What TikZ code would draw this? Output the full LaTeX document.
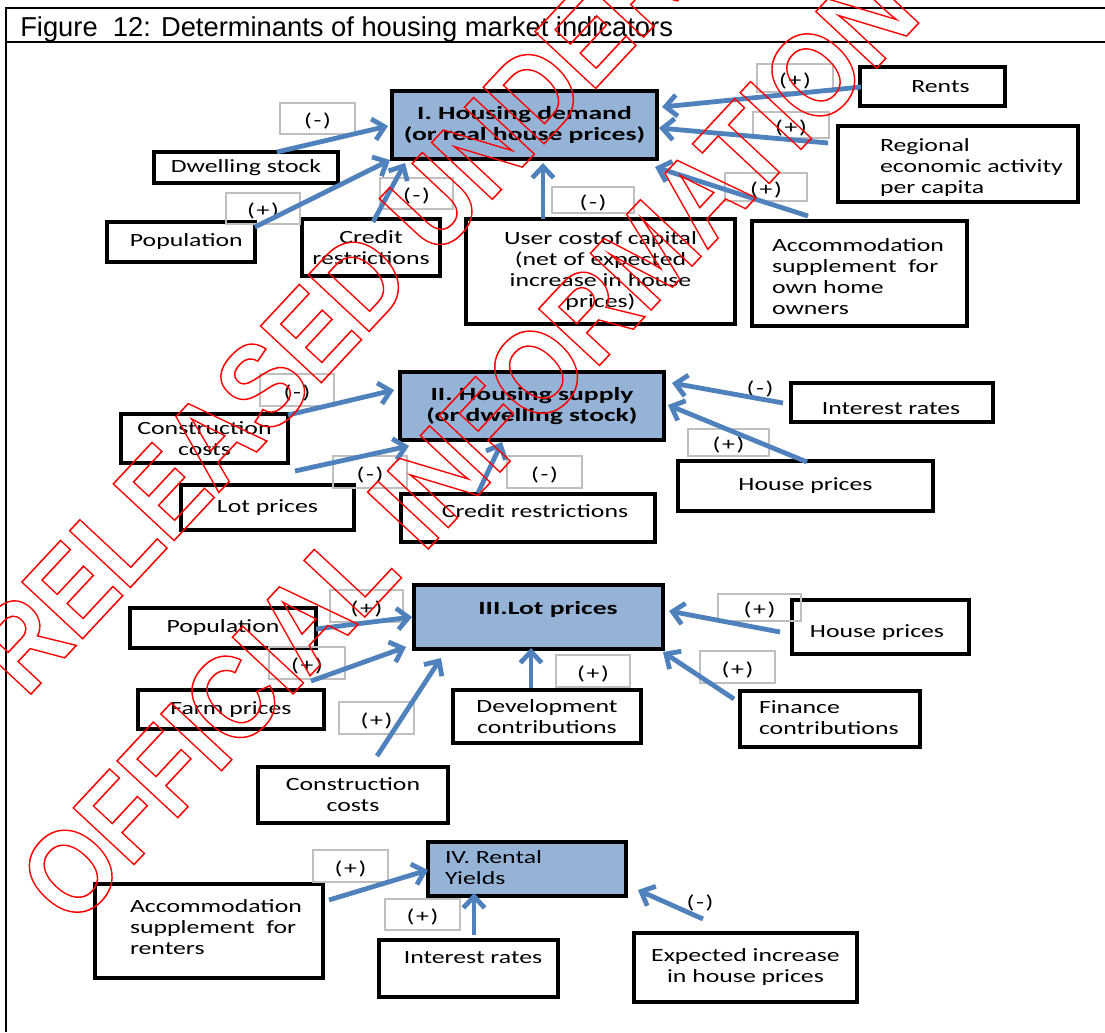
\documentclass[tikz,border=0pt]{standalone}
\usepackage{fontspec}
\setmainfont{Liberation Sans}
\newfontfamily\cf[FakeStretch=1.38, BoldFeatures={FakeStretch=1.48}]{Carlito}
\newfontfamily\wmfont{Liberation Sans}
\usetikzlibrary{arrows.meta,calc}
\definecolor{hblue}{RGB}{149,179,215}
\definecolor{ablue}{RGB}{79,129,189}
\definecolor{lgray}{RGB}{191,191,191}
\definecolor{wmred}{RGB}{255,0,0}
\tikzset{
  tx/.style={font=\cf\fontsize{14}{15.75}\selectfont, inner sep=0pt, outer sep=0pt, align=center},
  bx/.style={tx, draw=black, line width=3pt, fill=white},
  hb/.style={fill=hblue},
  lb/.style={draw=lgray, line width=1.5pt, fill=none, text height=12pt, text depth=0pt},
  arr/.style={draw=ablue, line width=3.6pt, -{Straight Barb[length=8.5pt,width=16pt]}},
}
\newcommand\mkbox[7][]{\node[bx,#1,anchor=north west,minimum width={(#5-#3)*0.75pt},minimum height={(#6-#4)*0.75pt}] (#2) at (#3,#4) {#7};}
\newcommand\conn[6]{\draw[arr] ($(#1.north west)+(#2,#3)$) -- ($(#4.north west)+(#5,#6)$);}
\newcommand\outl[1]{\special{pdf:literal direct 1 Tr 1 w}#1\special{pdf:literal direct 0 Tr}}
\newcommand\pl{(\kern1.3pt+\kern1.3pt)}
\newcommand\mi{(\kern1.3pt-\kern1.3pt)}
\begin{document}
\begin{tikzpicture}[x=0.75pt,y=-0.75pt]
\useasboundingbox (0,0) rectangle (1105,1032);
% frame
\draw[line width=2.2pt] (6,1032) -- (6,8) -- (1105,8);
\draw[line width=1pt] (6,42) -- (1105,42);
\node[anchor=base west, inner sep=0pt, font=\fontsize{20.5}{24}\selectfont] (title) at (20,36) {Figure\ \ 12: Determinants of housing market indicators};

% ---------- Section I ----------
\mkbox[hb]{dem}{392}{91}{657}{159}{\bfseries I. Housing demand\\\bfseries (or real house prices)}
\mkbox{ds}{154}{152}{338}{183}{Dwelling stock}
\mkbox{popa}{107}{222}{255}{262}{\hspace*{8pt}Population}
\mkbox{cra}{302}{219}{440}{276}{Credit\\restrictions}
\mkbox{uc}{466}{219}{735}{324}{User costof capital\\(net of expected\\increase in house\\prices)}
\mkbox{acca}{752}{221}{967}{326}{}
\node[tx, anchor=west, align=left] (accat) at ($(acca.north west)+(20,55.5)$) {Accommodation\\supplement~~for\\own home\\owners};
\mkbox{rents}{860}{67}{1005}{106}{\hspace*{12pt}Rents}
\mkbox{reg}{838}{126}{1078}{202}{}
\node[tx, anchor=west, align=left] (regt) at ($(reg.north west)+(42,41.5)$) {Regional\\economic activity\\per capita};

\mkbox[lb]{l1}{280}{103}{355}{134}{\mi}
\mkbox[lb]{l2}{226}{193}{300}{224}{\pl}
\mkbox[lb]{l3}{380}{178}{453}{209}{\mi}
\mkbox[lb]{l4}{552}{187}{634}{213}{\mi}
\mkbox[lb]{l5}{757}{64}{833}{92}{\pl}
\mkbox[lb]{l6}{753}{112}{829}{138}{\pl}
\mkbox[lb]{l7}{725}{173}{807}{201}{\pl}

\conn{ds}{123}{0}{dem}{-4}{35}
\conn{popa}{148}{5}{dem}{-2}{69}
\conn{cra}{71}{3}{dem}{13}{72}
\conn{uc}{77}{0}{dem}{151}{72}
\conn{acca}{56}{-5}{dem}{263}{76}
\conn{reg}{-10}{17}{dem}{267}{37}
\conn{rents}{1}{20}{dem}{270}{16}

% ---------- Section II ----------
\mkbox[hb]{sup}{400}{372}{664}{440}{\bfseries II. Housing supply\\\bfseries (or dwelling stock)}
\mkbox{ccb}{121}{414}{288}{463}{Construction\\costs}
\mkbox{lpb}{181}{485}{354}{530}{Lot prices}
\mkbox{crb}{401}{494}{655}{542}{}
\node[tx] (crbt) at ($(crb.north west)+(134,17)$) {Credit restrictions};
\mkbox{irb}{791}{383}{993}{422}{}
\node[tx] (irbt) at ($(irb.north west)+(100,26)$) {Interest rates};
\mkbox{hpb}{678}{461}{933}{511}{House prices}

\mkbox[lb]{l8}{260}{374}{334}{406}{\mi}
\mkbox[lb]{l9}{333}{456}{407}{488}{\mi}
\mkbox[lb]{l10}{507}{456}{582}{488}{\mi}
\mkbox[lb]{l11}{688}{429}{769}{456}{\pl}
\node[tx] (l12) at (760,389) {\mi};

\conn{ccb}{167}{1}{sup}{-6}{18}
\conn{lpb}{114}{-14}{sup}{9}{74}
\conn{crb}{77}{-1}{sup}{102}{70}
\conn{irb}{-8}{20}{sup}{272}{11}
\conn{hpb}{129}{1}{sup}{268}{33}

% ---------- Section III ----------
\mkbox[hb]{lotc}{414}{585}{663}{649}{}
\node[tx] (lotct) at ($(lotc.north west)+(134,24)$) {\bfseries III.Lot prices};
\mkbox{popc}{130}{608}{316}{648}{Population}
\mkbox{fpc}{138}{690}{324}{729}{Farm prices}
\mkbox{ccc}{258}{767}{448}{823}{Construction\\costs}
\mkbox{dcc}{453}{690}{641}{743}{Development\\contributions}
\mkbox{hpc}{792}{600}{969}{654}{}
\node[tx] (hpct) at ($(hpc.north west)+(85,33)$) {House prices};
\mkbox{fcc}{740}{691}{920}{747}{}
\node[tx, anchor=west, align=left] (fcct) at ($(fcc.north west)+(19,27)$) {Finance\\contributions};

\mkbox[lb]{l13}{330}{590}{403}{622}{\pl}
\mkbox[lb]{l14}{269}{647}{345}{679}{\pl}
\mkbox[lb]{l15}{339}{702}{414}{734}{\pl}
\mkbox[lb]{l16}{556}{655}{630}{687}{\pl}
\mkbox[lb]{l17}{718}{594}{801}{621}{\pl}
\mkbox[lb]{l18}{700}{651}{775}{683}{\pl}

\conn{popc}{186}{21}{lotc}{-2}{32}
\conn{fpc}{173}{-9}{lotc}{-8}{62}
\conn{ccc}{119}{-11}{lotc}{27}{73}
\conn{dcc}{78}{-2}{lotc}{117}{63}
\conn{hpc}{-12}{32}{lotc}{255}{26}
\conn{fcc}{-6}{8}{lotc}{249}{67}

% ---------- Section IV ----------
\mkbox[hb]{ryd}{428}{842}{626}{896}{}
\node[tx, anchor=west, align=left] (rydt) at ($(ryd.north west)+(17,26)$) {IV. Rental\\Yields};
\mkbox{accd}{95}{884}{323}{978}{}
\node[tx, anchor=west, align=left] (accdt) at ($(accd.north west)+(35,43.5)$) {Accommodation\\supplement~~for\\renters};
\mkbox{ird}{379}{940}{558}{997}{}
\node[tx] (irdt) at ($(ird.north west)+(94,18)$) {Interest rates};
\mkbox{exd}{634}{933}{857}{1002}{Expected increase\\in house prices}

\mkbox[lb]{l19}{313}{850}{388}{882}{\pl}
\mkbox[lb]{l20}{385}{899}{460}{930}{\pl}
\node[tx] (l21) at (700,903) {\mi};

\conn{accd}{234}{16}{ryd}{0}{28}
\conn{ird}{95}{-5}{ryd}{46}{51}
\conn{exd}{69}{-14}{ryd}{210}{48}

% ---------- watermark ----------
\node[rotate=47, yscale=1.15, text=wmred, inner sep=0pt, align=center,
      font=\wmfont\bfseries\fontsize{78.75}{125}\selectfont] (wm) at (398,380)
      {\outl{RELEASED UNDER}\\\outl{OFFICIAL INFORMATION}};
\end{tikzpicture}
\end{document}
